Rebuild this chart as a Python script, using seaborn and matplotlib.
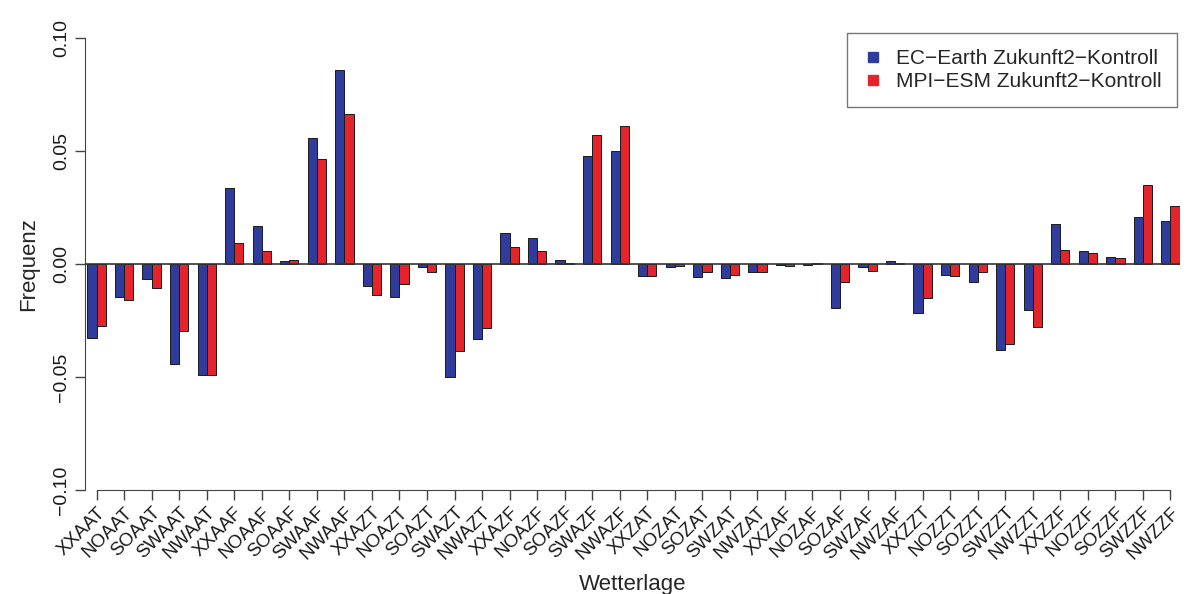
import pandas as pd
import matplotlib
matplotlib.use("Agg")
import matplotlib.pyplot as plt
from matplotlib.lines import Line2D
import seaborn as sns

# Wetterlagen (categories)
wetterlagen = ["XXAAT", "NOAAT", "SOAAT", "SWAAT", "NWAAT",
               "XXAAF", "NOAAF", "SOAAF", "SWAAF", "NWAAF",
               "XXAZT", "NOAZT", "SOAZT", "SWAZT", "NWAZT",
               "XXAZF", "NOAZF", "SOAZF", "SWAZF", "NWAZF",
               "XXZAT", "NOZAT", "SOZAT", "SWZAT", "NWZAT",
               "XXZAF", "NOZAF", "SOZAF", "SWZAF", "NWZAF",
               "XXZZT", "NOZZT", "SOZZT", "SWZZT", "NWZZT",
               "XXZZF", "NOZZF", "SOZZF", "SWZZF", "NWZZF"]

# frequency differences (Zukunft2 - Kontroll)
ec_earth = [-0.0326, -0.0147, -0.0066, -0.0441, -0.0493,
            0.0336, 0.0170, 0.0012, 0.0559, 0.0859,
            -0.0099, -0.0147, -0.0015, -0.0499, -0.0331,
            0.0138, 0.0116, 0.0018, 0.0479, 0.0500,
            -0.0052, -0.0013, -0.0059, -0.0062, -0.0037,
            -0.0003, -0.0006, -0.0193, -0.0015, 0.0015,
            -0.0215, -0.0047, -0.0080, -0.0381, -0.0203,
            0.0175, 0.0059, 0.0030, 0.0207, 0.0190]
mpi_esm = [-0.0272, -0.0160, -0.0106, -0.0296, -0.0493,
           0.0092, 0.0059, 0.0018, 0.0464, 0.0664,
           -0.0135, -0.0088, -0.0034, -0.0385, -0.0282,
           0.0074, 0.0056, 0.0006, 0.0570, 0.0612,
           -0.0052, -0.0007, -0.0036, -0.0047, -0.0037,
           -0.0010, 0.0006, -0.0081, -0.0033, 0.0003,
           -0.0151, -0.0055, -0.0037, -0.0354, -0.0277,
           0.0064, 0.0049, 0.0025, 0.0350, 0.0256]

series = ["EC\u2212Earth Zukunft2\u2212Kontroll", "MPI\u2212ESM Zukunft2\u2212Kontroll"]
colors = ["#2f3c9c", "#e5232a"]
yticks = [-0.10, -0.05, 0.00, 0.05, 0.10]

df = pd.DataFrame({
    "Wetterlage": wetterlagen * 2,
    "Frequenz": ec_earth + mpi_esm,
    "Modell": [series[0]] * len(wetterlagen) + [series[1]] * len(wetterlagen),
})

sns.set_style("ticks")
plt.rcParams["font.family"] = ["Liberation Sans", "DejaVu Sans"]

fig = plt.figure(figsize=(12, 5.94), dpi=100)
ax = fig.add_axes([0.071, 0.175, 0.912, 0.761])

sns.barplot(data=df, x="Wetterlage", y="Frequenz", hue="Modell",
            order=wetterlagen, hue_order=series, palette=colors,
            width=2/3, errorbar=None, edgecolor="#1a1a1a", linewidth=0.7,
            saturation=1, legend=False, ax=ax)

ax.axhline(0, color="#333333", lw=1.2, zorder=3)

ax.set_xlim(-1/3 - 0.08, len(wetterlagen) - 1 + 1/3)
ax.set_ylim(-0.10, 0.10)

ax.set_yticks(yticks)
ax.set_yticklabels([f"{v:.2f}".replace("-", "\u2212") for v in yticks],
                   rotation=90, va="center", fontsize=14)
ax.set_xticks(range(len(wetterlagen)))
ax.set_xticklabels(wetterlagen, rotation=45, ha="right",
                   rotation_mode="anchor", fontsize=13.5)

ax.tick_params(axis="both", direction="out", length=7, width=1, color="#444444",
               labelcolor="#1a1a1a")
ax.tick_params(axis="x", pad=3)
ax.tick_params(axis="y", pad=4)

sns.despine(ax=ax)
ax.spines["left"].set_color("#444444")
ax.spines["bottom"].set_color("#444444")
ax.spines["bottom"].set_bounds(0, len(wetterlagen) - 1)

ax.set_xlabel("Wetterlage", fontsize=16, labelpad=8)
ax.set_ylabel("Frequenz", fontsize=16, labelpad=10)

handles = [Line2D([], [], marker="s", linestyle="none", markersize=7,
                  markerfacecolor=c, markeredgecolor=c) for c in colors]
leg = ax.legend(handles, series, loc="upper right", bbox_to_anchor=(0.998, 1.01),
                fontsize=15, frameon=True, fancybox=False, borderaxespad=0,
                handlelength=1.0, handletextpad=0.6, labelspacing=0.2,
                borderpad=0.75)
leg.get_frame().set_edgecolor("#555555")
leg.get_frame().set_linewidth(1.0)

plt.savefig("out.png", dpi=100)
